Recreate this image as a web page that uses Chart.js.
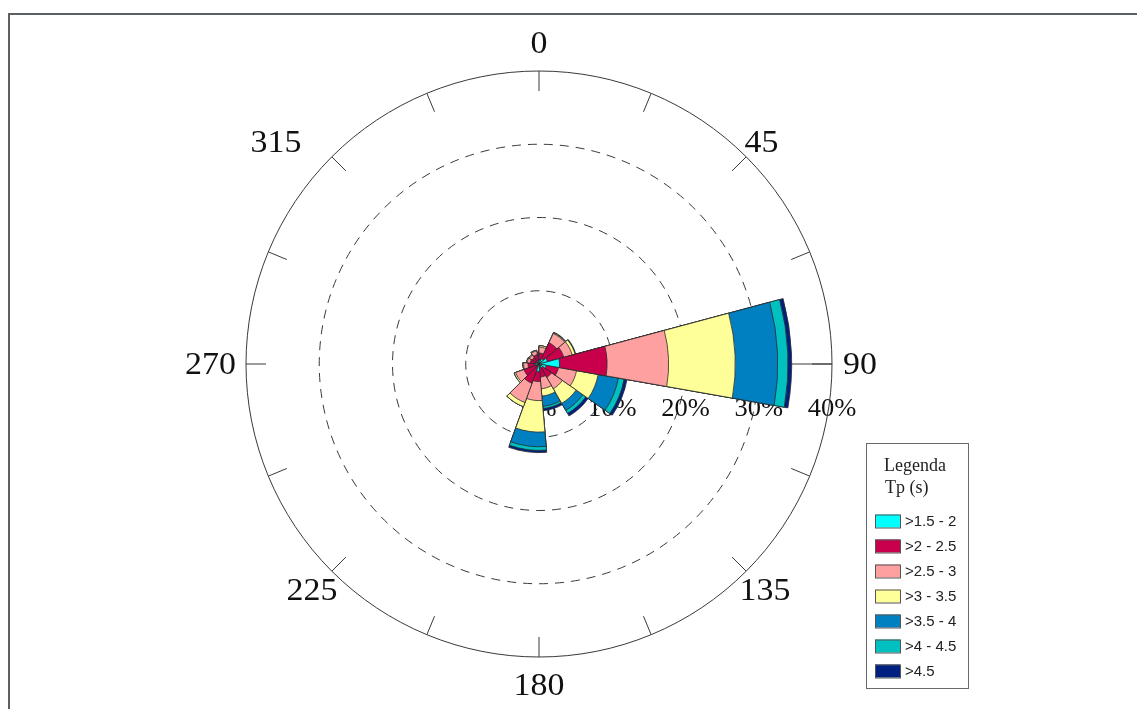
<!DOCTYPE html>
<html>
<head>
<meta charset="utf-8">
<script src="https://cdn.jsdelivr.net/npm/chart.js@4.4.1/dist/chart.umd.min.js"></script>
<style>
  html, body { margin: 0; padding: 0; background: #fff; }
  #wrap { position: relative; width: 1137px; height: 709px; }
</style>
</head>
<body>
<div id="wrap"><canvas id="roseChart" width="1137" height="709"></canvas></div>
<script>
// direction bins (start angle, degrees from north, clockwise) and their widths
const binStart = [0, 25, 50, 75, 100, 125, 150, 175, 200, 225, 250, 275, 300, 325, 350];
const binSpan  = [25, 25, 25, 25, 25, 25, 25, 25, 25, 25, 25, 25, 25, 25, 10];

// Tp classes
const classLabels = ['>1.5 - 2', '>2 - 2.5', '>2.5 - 3', '>3 - 3.5', '>3.5 - 4', '>4 - 4.5', '>4.5'];
const classColors = ['#00ffff', '#c8004b', '#ffa0a0', '#ffff99', '#0080c0', '#00c0c0', '#002080'];

// frequency (%) per class, per direction bin
const tp15_2  = [0.5, 0.8, 1.2, 2.8, 1.0, 0.6, 0.4, 1.0, 0.3, 0.4, 0.5, 0.4, 0.3, 0.4, 0.2];
const tp2_25  = [1.0, 2.4, 2.3, 6.5, 1.7, 1.5, 1.4, 1.4, 2.5, 1.8, 1.0, 0.8, 0.8, 0.9, 0.5];
const tp25_3  = [0.8, 1.4, 1.2, 8.4, 2.5, 1.8, 1.6, 2.6, 2.8, 1.2, 0.6, 0.4, 0.4, 0.5, 0.3];
const tp3_35  = [0.2, 0.1, 0.4, 9.1, 3.0, 2.3, 1.0, 4.3, 0.6, 0.2, 0.1, 0.1, 0.1, 0.1, 0.0];
const tp35_4  = [0.0, 0.0, 0.0, 5.8, 2.8, 1.1, 1.4, 2.0, 0.0, 0.0, 0.0, 0.0, 0.0, 0.0, 0.0];
const tp4_45  = [0.0, 0.0, 0.0, 1.4, 0.8, 0.5, 0.3, 0.5, 0.0, 0.0, 0.0, 0.0, 0.0, 0.0, 0.0];
const tp45    = [0.0, 0.1, 0.1, 0.5, 0.4, 0.4, 0.3, 0.3, 0.0, 0.0, 0.0, 0.0, 0.0, 0.0, 0.0];

const angleLabels = ['0', '45', '90', '135', '180', '225', '270', '315'];
const radialTicks = [0, 10, 20, 30, 40];

const classData = [tp15_2, tp2_25, tp25_3, tp3_35, tp35_4, tp4_45, tp45];

// stacked rose: each dataset is the running total, innermost drawn on top
const running = binStart.map(() => 0);
const datasets = classData.map((vals, k) => {
  vals.forEach((v, i) => { running[i] += v; });
  return {
    label: classLabels[k],
    data: running.slice(),
    backgroundColor: classColors[k],
    borderColor: '#2b2b2b',
    borderWidth: 0.8,
    angle: ctx => binSpan[ctx.dataIndex]
  };
});

const serif = '"Liberation Serif", "Times New Roman", serif';
const sans = '"Liberation Sans", Arial, sans-serif';

// how each compass label sits against the ring: gap, align, baseline, nudge
const labelStyle = [
  { gap: 17, align: 'center', base: 'bottom', dx: 0,   dy: 7 },
  { gap: 2,  align: 'left',   base: 'bottom', dx: -3,  dy: 4 },
  { gap: 11, align: 'left',   base: 'middle', dx: 0,   dy: 2 },
  { gap: 2,  align: 'left',   base: 'top',    dx: -8,  dy: 3 },
  { gap: 14, align: 'center', base: 'top',    dx: 0,   dy: 0 },
  { gap: 2,  align: 'right',  base: 'top',    dx: 7,   dy: 3 },
  { gap: 10, align: 'right',  base: 'middle', dx: 0,   dy: 2 },
  { gap: 2,  align: 'right',  base: 'bottom', dx: -29, dy: 4 }
];

// text slightly stretched sideways, like the source render
function wideText(c, t, x, y, sx) {
  c.save();
  c.translate(x, y);
  c.scale(sx, 1);
  c.fillText(t, 0, 0);
  c.restore();
}

// frame + background
const framePlugin = {
  id: 'frame',
  beforeDraw(chart) {
    const c = chart.ctx;
    c.save();
    c.fillStyle = '#fff';
    c.fillRect(0, 0, chart.width, chart.height);
    c.strokeStyle = '#5b6064';
    c.lineWidth = 2;
    c.beginPath();
    c.moveTo(9, chart.height);
    c.lineTo(9, 14);
    c.lineTo(chart.width, 14);
    c.stroke();
    c.restore();
  }
};

// dashed rings, radial axis and its labels (under the wedges)
const gridPlugin = {
  id: 'roseGrid',
  beforeDatasetsDraw(chart) {
    const r = chart.scales.r;
    const c = chart.ctx;
    const cx = r.xCenter, cy = r.yCenter;
    c.save();
    c.strokeStyle = '#3a3a3a';
    c.lineWidth = 1;
    c.setLineDash([9, 7]);
    radialTicks.slice(1, -1).forEach(v => {
      c.beginPath();
      c.arc(cx, cy, r.getDistanceFromCenterForValue(v), 0, Math.PI * 2);
      c.stroke();
    });
    c.setLineDash([]);
    const rMax = r.getDistanceFromCenterForValue(radialTicks[radialTicks.length - 1]);
    c.beginPath();
    c.moveTo(cx, cy);
    c.lineTo(cx + rMax, cy);
    c.stroke();
    c.fillStyle = '#111';
    c.font = '25px ' + serif;
    c.textAlign = 'center';
    c.textBaseline = 'middle';
    radialTicks.forEach(v => {
      wideText(c, v + '%', cx + r.getDistanceFromCenterForValue(v), cy + 45, 1.06);
    });
    c.restore();
  },
  afterDatasetsDraw(chart) {
    const r = chart.scales.r;
    const c = chart.ctx;
    const cx = r.xCenter, cy = r.yCenter;
    const rMax = r.getDistanceFromCenterForValue(radialTicks[radialTicks.length - 1]);
    c.save();
    c.strokeStyle = '#3a3a3a';
    c.lineWidth = 1;
    c.beginPath();
    c.arc(cx, cy, rMax, 0, Math.PI * 2);
    c.stroke();
    for (let i = 0; i < 16; i++) {
      const a = i * 22.5 * Math.PI / 180;
      c.beginPath();
      c.moveTo(cx + Math.sin(a) * rMax, cy - Math.cos(a) * rMax);
      c.lineTo(cx + Math.sin(a) * (rMax - 20), cy - Math.cos(a) * (rMax - 20));
      c.stroke();
    }
    c.fillStyle = '#111';
    c.font = '32px ' + serif;
    angleLabels.forEach((t, i) => {
      const a = i * 45 * Math.PI / 180;
      const s = labelStyle[i];
      c.textAlign = s.align;
      c.textBaseline = s.base;
      const x = cx + Math.sin(a) * (rMax + s.gap) + s.dx;
      const y = cy - Math.cos(a) * (rMax + s.gap) + s.dy;
      wideText(c, t, x, y, 1.06);
    });
    c.restore();
  }
};

// legend box
const legendPlugin = {
  id: 'roseLegend',
  afterDraw(chart) {
    const c = chart.ctx;
    c.save();
    c.strokeStyle = '#6a6a6a';
    c.lineWidth = 1;
    c.strokeRect(866.5, 443.5, 102, 245);
    c.fillStyle = '#222';
    c.font = '18px ' + serif;
    c.textAlign = 'left';
    c.textBaseline = 'middle';
    c.fillText('Legenda', 884, 466);
    c.fillText('Tp (s)', 885, 488);
    c.font = '15px ' + sans;
    classLabels.forEach((lab, i) => {
      const y = 521 + i * 25;
      c.fillStyle = classColors[i];
      c.fillRect(875, y - 6.5, 25, 13);
      c.strokeStyle = '#555';
      c.strokeRect(875.5, y - 6, 25, 13);
      c.fillStyle = '#222';
      c.fillText(lab, 905, y + 1);
    });
    c.restore();
  }
};

const roseChart = new Chart(document.getElementById('roseChart'), {
  type: 'polarArea',
  data: {
    labels: binStart.map(String),
    datasets: datasets
  },
  options: {
    responsive: false,
    animation: false,
    layout: { padding: { left: 246, right: 305, top: 71, bottom: 52 } },
    scales: {
      r: {
        min: 0,
        max: 40,
        startAngle: 0,
        ticks: { display: false },
        grid: { display: false },
        angleLines: { display: false },
        pointLabels: { display: false }
      }
    },
    plugins: {
      legend: { display: false },
      tooltip: { enabled: false }
    }
  },
  plugins: [framePlugin, gridPlugin, legendPlugin]
});
</script>
</body>
</html>
